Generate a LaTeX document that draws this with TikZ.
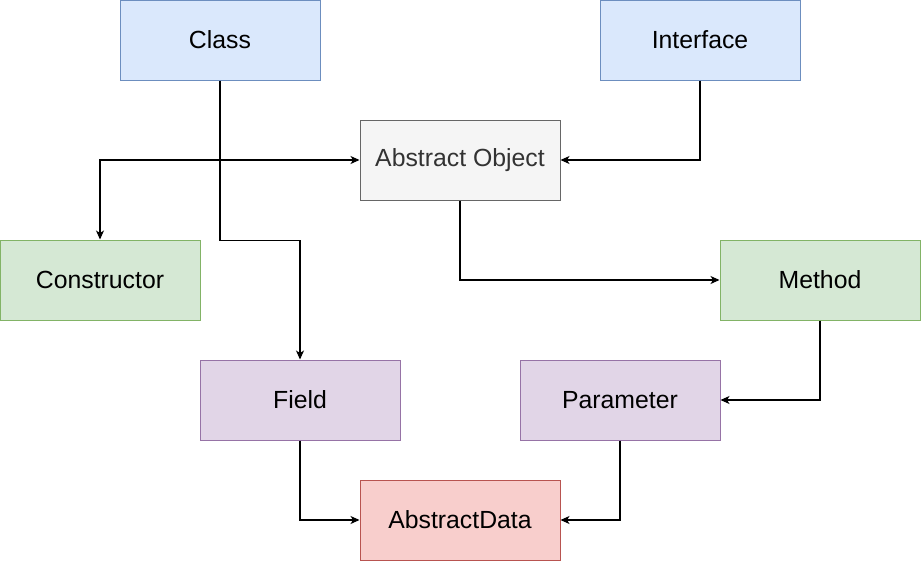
\documentclass[tikz,border=0pt]{standalone}
\usepackage{fontspec}
\setmainfont{Liberation Sans}
\usetikzlibrary{arrows.meta}
\definecolor{bluef}{HTML}{DAE8FC}\definecolor{blued}{HTML}{6C8EBF}
\definecolor{grayf}{HTML}{F5F5F5}\definecolor{grayd}{HTML}{666666}\definecolor{grayt}{HTML}{333333}
\definecolor{greenf}{HTML}{D5E8D4}\definecolor{greend}{HTML}{82B366}
\definecolor{purpf}{HTML}{E1D5E7}\definecolor{purpd}{HTML}{9673A6}
\definecolor{redf}{HTML}{F8CECC}\definecolor{redd}{HTML}{B85450}
\tikzset{
  box/.style={rectangle, minimum width=200pt, minimum height=80pt, inner sep=0pt, line width=1pt, font=\fontsize{24.8}{28}\selectfont},
  bluebox/.style={box, fill=bluef, draw=blued},
  graybox/.style={box, fill=grayf, draw=grayd, text=grayt},
  greenbox/.style={box, fill=greenf, draw=greend},
  purpbox/.style={box, fill=purpf, draw=purpd},
  redbox/.style={box, fill=redf, draw=redd},
  arr/.style={line width=1.1pt, -{Stealth[length=9pt,width=8pt,inset=2.5pt]}},
  arrboth/.style={line width=1.1pt, {Stealth[length=9pt,width=8pt,inset=2.5pt]}-{Stealth[length=9pt,width=8pt,inset=2.5pt]}}
}
\begin{document}
\begin{tikzpicture}[x=1pt,y=-1pt]
\useasboundingbox (0,0) rectangle (922,562);
\node[bluebox] (class) at (220,40) {Class};
\node[bluebox] (interface) at (700,40) {Interface};
\node[graybox] (ao) at (460,160) {Abstract Object};
\node[greenbox] (constructor) at (100,280) {Constructor};
\node[greenbox] (method) at (820,280) {Method};
\node[purpbox] (field) at (300,400) {Field};
\node[purpbox] (parameter) at (620,400) {Parameter};
\node[redbox] (ad) at (460,520) {AbstractData};
\draw[arr] (class.south) -- ++(0,160) -| (field.north);
\draw[arr] (interface.south) |- (ao.east);
\draw[arrboth] (constructor.north) |- (ao.west);
\draw[arr] (ao.south) |- (method.west);
\draw[arr] (method.south) |- (parameter.east);
\draw[arr] (field.south) |- (ad.west);
\draw[arr] (parameter.south) |- (ad.east);
\end{tikzpicture}
\end{document}
